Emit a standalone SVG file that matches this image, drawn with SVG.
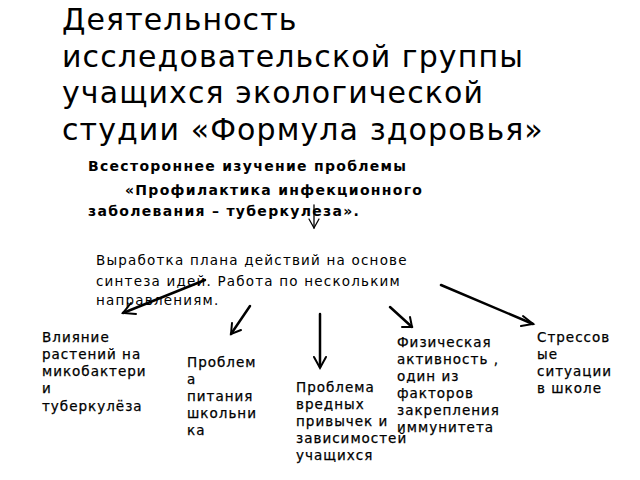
<svg xmlns="http://www.w3.org/2000/svg" width="640" height="480" viewBox="0 0 640 480">
<style>
.title{font-family:"DejaVu Sans",sans-serif;font-size:30px;fill:#000;letter-spacing:1.1px}
.sub{font-family:"DejaVu Sans",sans-serif;font-size:14px;font-weight:bold;fill:#000;letter-spacing:1.3px}
.plan{font-family:"DejaVu Sans",sans-serif;font-size:13.5px;fill:#000;letter-spacing:1.2px}
.node{font-family:"DejaVu Sans",sans-serif;font-size:13.5px;fill:#000;letter-spacing:1px;stroke:#000;stroke-width:0.25px}
.c{fill:none;stroke:#000;stroke-linecap:round}
</style>
<rect width="640" height="480" fill="#fff"/>
<g id="title">
<text class="title" x="62" y="30">Деятельность</text>
<text class="title" x="62" y="67">исследовательской группы</text>
<text class="title" x="62" y="103">учащихся экологической</text>
<text class="title" x="62" y="140">студии «Формула здоровья»</text>
</g>
<g id="problem">
<text class="sub" x="88" y="171">Всестороннее изучение проблемы</text>
<text class="sub" x="125" y="195">«Профилактика инфекционного</text>
<text class="sub" x="88" y="216">заболевания – туберкулеза».</text>
</g>
<g id="plan">
<text class="plan" x="96" y="265">Выработка плана действий на основе</text>
<text class="plan" x="96" y="286">синтеза идей. Работа по нескольким</text>
<text class="plan" x="96" y="305">направлениям.</text>
</g>
<g id="connectors" class="c">
<path d="M314,205 L314,228" stroke-width="1.3"/>
<path d="M309,219 L314,228 L319,219" stroke-width="1.3"/>
<path d="M205,280 L123,313" stroke-width="2.5"/>
<path d="M131,303 L123,313 L136,314" stroke-width="2"/>
<path d="M250,306 L231,334" stroke-width="2.5"/>
<path d="M232,323 L231,334 L241,330" stroke-width="2"/>
<path d="M320,314 L320,367" stroke-width="2.5"/>
<path d="M314,357 L320,368 L326,357" stroke-width="2"/>
<path d="M390,307 L412,327" stroke-width="2.5"/>
<path d="M402,327 L412,327 L410,317" stroke-width="2"/>
<path d="M441,285 L533,324" stroke-width="2.5"/>
<path d="M523,316 L533,324 L521,326" stroke-width="2"/>
</g>
<g id="n1">
<text class="node" x="42" y="342">Влияние</text>
<text class="node" x="42" y="359">растений на</text>
<text class="node" x="42" y="376">микобактери</text>
<text class="node" x="42" y="393">и</text>
<text class="node" x="42" y="411">туберкулёза</text>
</g>
<g id="n2">
<text class="node" x="187" y="367">Проблем</text>
<text class="node" x="187" y="384">а</text>
<text class="node" x="187" y="401">питания</text>
<text class="node" x="187" y="418">школьни</text>
<text class="node" x="187" y="435">ка</text>
</g>
<g id="n3">
<text class="node" x="296" y="392">Проблема</text>
<text class="node" x="296" y="409">вредных</text>
<text class="node" x="296" y="426">привычек и</text>
<text class="node" x="296" y="443">зависимостей</text>
<text class="node" x="296" y="460">учащихся</text>
</g>
<g id="n4">
<text class="node" x="397" y="347">Физическая</text>
<text class="node" x="397" y="364">активность ,</text>
<text class="node" x="397" y="381">один из</text>
<text class="node" x="397" y="398">факторов</text>
<text class="node" x="397" y="415">закрепления</text>
<text class="node" x="397" y="432">иммунитета</text>
</g>
<g id="n5">
<text class="node" x="537" y="342">Стрессов</text>
<text class="node" x="537" y="359">ые</text>
<text class="node" x="537" y="376">ситуации</text>
<text class="node" x="537" y="393">в школе</text>
</g>
</svg>
